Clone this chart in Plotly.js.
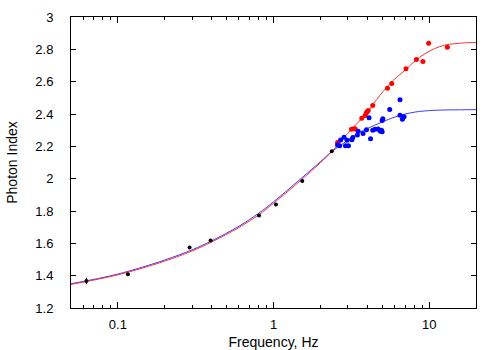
<!DOCTYPE html>
<html><head><meta charset="utf-8">
<script src="https://cdn.plot.ly/plotly-3.0.1.min.js"></script>
<style>html,body{margin:0;padding:0;background:#fff}#chart{width:500px;height:350px}</style>
</head><body><div id="chart"></div>
<script>
// Black points (low-frequency)
const blackFreq = [0.0628, 0.116, 0.289, 0.394, 0.807, 1.037, 1.53, 2.37];
const blackIndex = [1.367, 1.408, 1.575, 1.618, 1.772, 1.840, 1.986, 2.169];
const blackErr = [0.02, 0.008, 0.006, 0.006, 0.006, 0.006, 0.006, 0.006];

// Red points
const redFreq = [2.58, 3.17, 3.28, 3.35, 3.69, 3.88, 3.94, 4.00, 4.06, 4.34, 5.40, 5.75, 7.10, 8.28, 9.12, 9.93, 13.1];
const redIndex = [2.223, 2.305, 2.309, 2.307, 2.373, 2.391, 2.406, 2.414, 2.422, 2.453, 2.560, 2.589, 2.680, 2.737, 2.725, 2.838, 2.813];

// Blue points
const blueFreq = [2.58, 2.70, 2.66, 2.84, 2.90, 3.03, 2.97, 3.19, 3.23, 3.50, 3.46, 3.76, 3.96, 4.11, 4.20, 4.34, 4.49, 4.69, 4.82, 4.94, 4.99, 4.87, 4.99, 5.04, 5.58, 6.50, 6.50, 6.79, 6.73, 6.90];
const blueIndex = [2.208, 2.239, 2.204, 2.256, 2.204, 2.204, 2.237, 2.241, 2.254, 2.294, 2.270, 2.280, 2.303, 2.377, 2.247, 2.300, 2.305, 2.307, 2.300, 2.299, 2.290, 2.293, 2.360, 2.371, 2.428, 2.488, 2.393, 2.381, 2.367, 2.383];

// Model curves
const redCurveFreq = [0.05, 0.1, 0.2, 0.3, 0.4, 0.6, 0.8, 1.0, 1.5, 2.0, 2.37, 3.0, 4.0, 4.82, 5.86, 6.97, 8.69, 11.7, 15.7, 20];
const redCurveIndex = [1.346, 1.405, 1.490, 1.553, 1.608, 1.698, 1.775, 1.848, 1.990, 2.098, 2.168, 2.280, 2.410, 2.515, 2.607, 2.669, 2.751, 2.817, 2.838, 2.842];
const blueCurveFreq = [0.05, 0.1, 0.2, 0.3, 0.4, 0.6, 0.8, 1.0, 1.5, 2.0, 2.37, 2.8, 3.5, 4.82, 6.47, 8.69, 11.7, 15.7, 20];
const blueCurveIndex = [1.350, 1.410, 1.497, 1.560, 1.615, 1.706, 1.785, 1.857, 2.000, 2.105, 2.168, 2.217, 2.282, 2.344, 2.391, 2.416, 2.424, 2.426, 2.427];

const xTicks = [0.1, 1, 10];
const xTickText = ['0.1', '1', '10'];

const font = {family: 'Liberation Sans, Arial, sans-serif', size: 13, color: '#000'};

const traces = [
  {x: blueCurveFreq, y: blueCurveIndex, mode: 'lines', line: {color: 'rgb(60,60,255)', width: 1, shape: 'spline', smoothing: 1}, hoverinfo: 'skip'},
  {x: redCurveFreq, y: redCurveIndex, mode: 'lines', line: {color: 'rgb(255,50,50)', width: 1, shape: 'spline', smoothing: 1}, hoverinfo: 'skip'},
  {x: blackFreq, y: blackIndex, mode: 'markers', marker: {color: '#000', size: 4},
   error_y: {type: 'data', array: blackErr, visible: true, color: '#000', thickness: 1, width: 0}},
  {x: redFreq, y: redIndex, mode: 'markers', marker: {color: '#ff0000', size: 5}},
  {x: blueFreq, y: blueIndex, mode: 'markers', marker: {color: '#0000ff', size: 5}}
];

const layout = {
  width: 500, height: 350,
  margin: {l: 70.5, r: 24, t: 16.5, b: 42},
  showlegend: false,
  paper_bgcolor: '#fff', plot_bgcolor: '#fff',
  font: font,
  xaxis: {
    type: 'log', range: [Math.log10(0.05), Math.log10(20)],
    tickvals: xTicks, ticktext: xTickText,
    ticks: 'inside', ticklen: 6, tickcolor: '#000', tickwidth: 1,
    minor: {ticks: 'inside', ticklen: 3, tickcolor: '#000', tickwidth: 1, dtick: 'D1', showgrid: false},
    showline: true, linecolor: '#000', linewidth: 1, mirror: 'allticks',
    showgrid: false, zeroline: false, automargin: false,
    ticklabelstandoff: 4,
    title: {text: 'Frequency, Hz', font: {family: font.family, size: 14}, standoff: 8},
    tickfont: font
  },
  yaxis: {
    range: [1.2, 3], dtick: 0.2, tick0: 1.2,
    ticks: 'inside', ticklen: 5, tickcolor: '#000', tickwidth: 1,
    showline: true, linecolor: '#000', linewidth: 1, mirror: 'allticks',
    showgrid: false, zeroline: false, automargin: false,
    ticklabelstandoff: 14,
    title: {text: 'Photon Index', font: {family: font.family, size: 14}, standoff: 14},
    tickfont: font
  }
};

Plotly.newPlot('chart', traces, layout, {staticPlot: true, displayModeBar: false});
</script>
</body></html>
